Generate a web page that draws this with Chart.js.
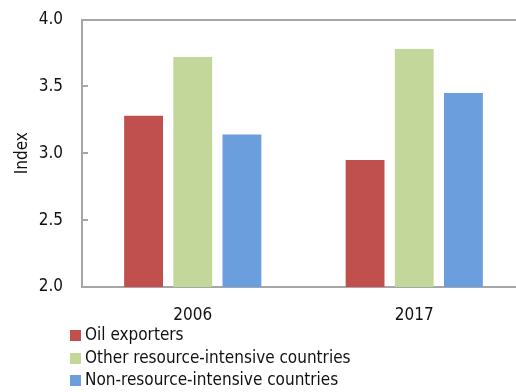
<!DOCTYPE html>
<html>
<head>
<meta charset="utf-8">
<script src="https://cdn.jsdelivr.net/npm/chart.js@4.4.1/dist/chart.umd.min.js"></script>
<style>
  html, body { margin: 0; padding: 0; background: #fff; overflow: hidden; }
  #wrap { position: relative; width: 526px; height: 392px; }
  #legend {
    position: absolute; left: 70px; top: 323px;
    font-family: 'Liberation Sans Narrow', 'Arial Narrow', 'DejaVu Sans Condensed', sans-serif;
    font-size: 17px; color: #111;
  }
  #legend div { height: 22.5px; line-height: 22.5px; white-space: nowrap; }
  #legend span.box { display: inline-block; width: 11px; height: 11px; margin-right: 4px; vertical-align: -1px; }
</style>
</head>
<body>
<div id="wrap">
  <canvas id="chart" width="526" height="392"></canvas>
  <div id="legend"></div>
</div>
<script>
const years = ['2006', '2017'];
const oilExporters = [3.28, 2.95];
const otherResource = [3.72, 3.78];
const nonResource = [3.14, 3.45];
const yTicks = [2.0, 2.5, 3.0, 3.5, 4.0];

const FONT = "'Liberation Sans Narrow', 'Arial Narrow', 'DejaVu Sans Condensed', sans-serif";
const AXIS = '#A6A6A6';

Chart.defaults.font.family = FONT;
Chart.defaults.font.size = 17;
Chart.defaults.color = '#111';

// короткие засечки внутрь области графика на оси Y
const innerTicks = {
  id: 'innerTicks',
  afterDatasetsDraw(chart) {
    const { ctx, chartArea, scales } = chart;
    const y = scales.y;
    ctx.save();
    ctx.strokeStyle = AXIS;
    ctx.lineWidth = 2;
    yTicks.forEach((v) => {
      const py = Math.round(y.getPixelForValue(v));
      ctx.beginPath();
      ctx.moveTo(chartArea.left, py);
      ctx.lineTo(chartArea.left + 6, py);
      ctx.stroke();
    });
    ctx.restore();
  },
};

const chart = new Chart(document.getElementById('chart'), {
  type: 'bar',
  data: {
    labels: years,
    datasets: [
      { label: 'Oil exporters', data: oilExporters, backgroundColor: '#C0504D' },
      { label: 'Other resource-intensive countries', data: otherResource, backgroundColor: '#C4D79B' },
      { label: 'Non-resource-intensive countries', data: nonResource, backgroundColor: '#6A9EDC' },
    ],
  },
  options: {
    responsive: false,
    animation: false,
    layout: { padding: { top: 19.5, right: 1, bottom: 65, left: 0 } },
    datasets: { bar: { categoryPercentage: 0.666, barPercentage: 0.79 } },
    plugins: { legend: { display: false }, tooltip: { enabled: false } },
    scales: {
      x: {
        grid: { display: false, drawTicks: false },
        border: { color: AXIS, width: 2 },
        ticks: { padding: 18 },
        afterFit(scale) { scale.height = 40; },
      },
      y: {
        min: 2,
        max: 4,
        afterBuildTicks(scale) { scale.ticks = yTicks.map((v) => ({ value: v })); },
        grid: {
          drawTicks: true,
          tickLength: 19,
          tickColor: 'transparent',
          lineWidth: 2,
          color: (c) => (c.tick && c.tick.value === 4 ? AXIS : 'transparent'),
        },
        border: { color: AXIS, width: 2 },
        ticks: { padding: 0, callback: (v) => Number(v).toFixed(1) },
        title: { display: true, text: 'Index', padding: { top: 12, bottom: 0 }, font: { size: 17 } },
        afterFit(scale) { scale.width = 82; },
      },
    },
  },
  plugins: [innerTicks],
});

// легенда по строкам под графиком
const legend = document.getElementById('legend');
chart.data.datasets.forEach((ds) => {
  const row = document.createElement('div');
  const box = document.createElement('span');
  box.className = 'box';
  box.style.background = ds.backgroundColor;
  row.appendChild(box);
  row.appendChild(document.createTextNode(ds.label));
  legend.appendChild(row);
});
</script>
</body>
</html>
